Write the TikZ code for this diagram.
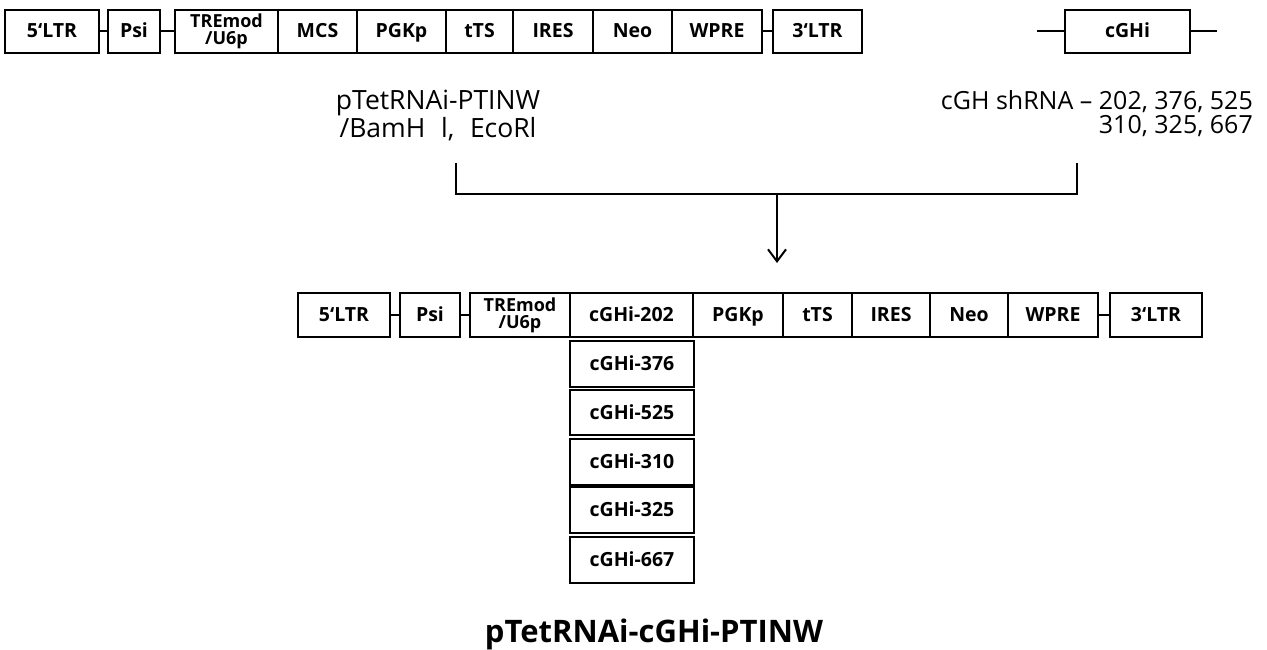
\documentclass[tikz,border=0pt]{standalone}
\usepackage{fontspec}
\setmainfont{Open Sans}
\usetikzlibrary{arrows.meta}
\newcommand{\gr}{\symbol{96}}
\begin{document}
\begin{tikzpicture}[x=1pt,y=-1pt,
  blk/.style={draw, line width=2pt, inner sep=0pt, font=\fontsize{19.5}{18}\selectfont\bfseries, align=center},
  sblk/.style={blk, text height=15pt, text depth=2pt},
  dblk/.style={blk, font=\fontsize{18}{17}\selectfont\bfseries},
  link/.style={line width=2pt},
  note/.style={font=\fontsize{26.5}{24}\selectfont, inner sep=0pt}]
\fill[white] (0,0) rectangle (1267,650);
\useasboundingbox (0,0) rectangle (1267,650);
\newcommand{\blkat}[7][sblk]{\node[#1,minimum width={#4-#3},minimum height={#6-#5}] (#2) at ({(#3+#4)/2},{(#5+#6)/2}) {#7};}
% top vector
\blkat{t5}{5}{99}{10}{53}{5\gr LTR}
\blkat{tpsi}{108}{160}{10}{53}{Psi}
\blkat[dblk]{ttre}{175}{278}{10}{53}{TREmod\\/U6p}
\blkat{tmcs}{278}{357}{10}{53}{MCS}
\blkat{tpgk}{357}{446}{10}{53}{PGKp}
\blkat{ttts}{446}{513}{10}{53}{tTS}
\blkat{tires}{513}{593}{10}{53}{IRES}
\blkat{tneo}{593}{672}{10}{53}{Neo}
\blkat{twpre}{672}{762}{10}{53}{WPRE}
\blkat{t3}{773}{862}{10}{53}{3\gr LTR}
\draw[link] (t5.east) -- (tpsi.west);
\draw[link] (tpsi.east) -- (ttre.west);
\draw[link] (twpre.east) -- (t3.west);
% cGHi insert
\blkat{cghi}{1065}{1190}{10}{53}{cGHi}
\coordinate (cl) at (1037,31.5);
\coordinate (cr) at (1217,31.5);
\draw[link] (cl) -- (cghi.west);
\draw[link] (cghi.east) -- (cr);
% notes
\node[note, align=center, anchor=north] (vnote) at (438,90) {pTetRNAi-PTINW\\/BamH\,\, l,\,\, EcoRl};
\node[note, font=\fontsize{25}{24}\selectfont, align=right, anchor=north east] (inote) at (1253,90) {cGH shRNA – 202, 376, 525\\310, 325, 667};
% bracket + arrow
\coordinate (bl) at (456,163);
\coordinate (br) at (1077,163);
\coordinate (bm) at (777,194);
\coordinate (at) at (777,263);
\draw[link] (bl) |- (bm) -| (br);
\draw[link,-{Straight Barb[length=12pt,width=18pt,line width=2pt]}] (bm) -- (at);
% bottom vector
\blkat{b5}{298}{390}{293}{337}{5\gr LTR}
\blkat{bpsi}{400}{460}{293}{337}{Psi}
\blkat[dblk]{btre}{470}{570}{293}{337}{TREmod\\/U6p}
\blkat{b202}{570}{693}{293}{337}{cGHi-202}
\blkat{bpgk}{693}{783}{293}{337}{PGKp}
\blkat{btts}{783}{852}{293}{337}{tTS}
\blkat{bires}{852}{930}{293}{337}{IRES}
\blkat{bneo}{930}{1008}{293}{337}{Neo}
\blkat{bwpre}{1008}{1098}{293}{337}{WPRE}
\blkat{b3}{1110}{1202}{293}{337}{3\gr LTR}
\draw[link] (b5.east) -- (bpsi.west);
\draw[link] (bpsi.east) -- (btre.west);
\draw[link] (bwpre.east) -- (b3.west);
% stacked inserts
\blkat{s376}{570}{694}{341}{387}{cGHi-376}
\blkat{s525}{570}{694}{390}{435}{cGHi-525}
\blkat{s310}{570}{694}{439}{485}{cGHi-310}
\blkat{s325}{570}{694}{486}{533}{cGHi-325}
\blkat{s667}{570}{694}{537}{583}{cGHi-667}
\draw[line width=3pt] (s310.south west) -- (s310.south east);
% title
\node[inner sep=0pt, font=\fontsize{31}{34}\selectfont\bfseries] (title) at (654,634) {pTetRNAi-cGHi-PTINW};
\end{tikzpicture}
\end{document}
